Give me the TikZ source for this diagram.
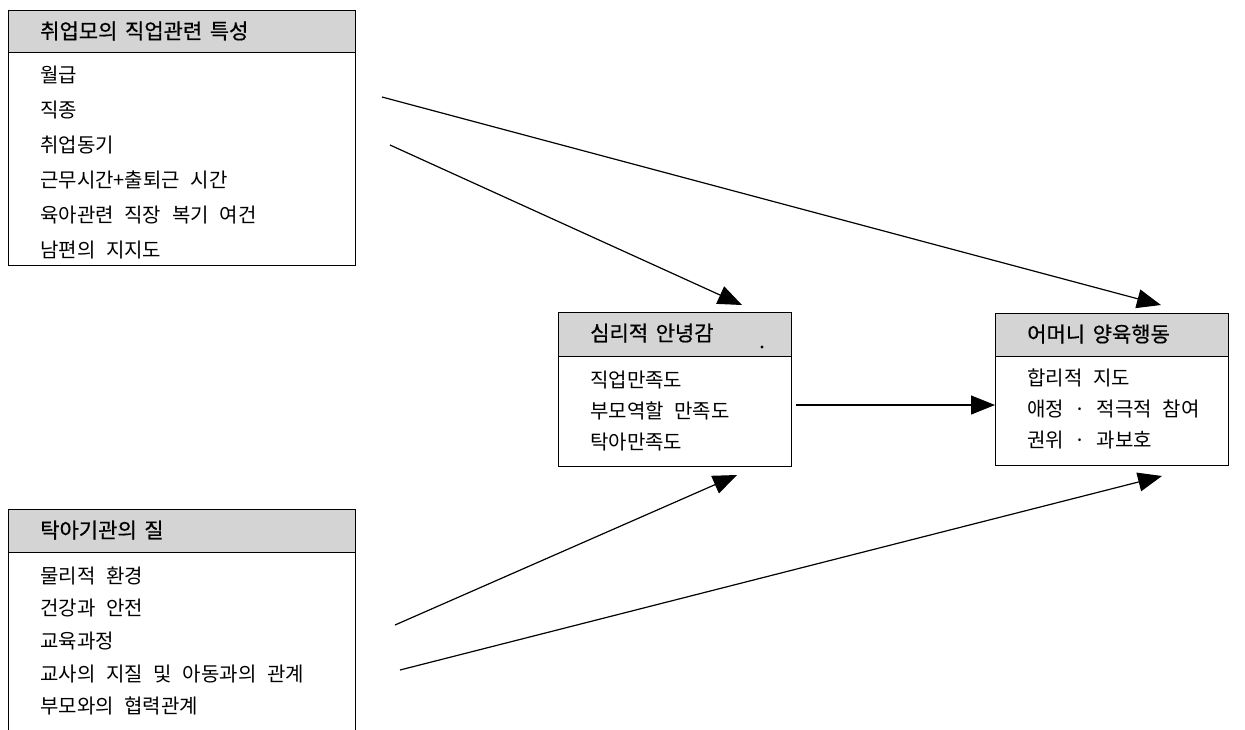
\documentclass[tikz,border=0pt]{standalone}
\usepackage{fontspec}
\setmainfont{Noto Sans CJK KR}
\newfontfamily\itemfont[WordSpace=2.4]{Noto Sans CJK KR}
\newfontfamily\headfont[FakeBold=0.6,WordSpace=1.6]{Noto Sans CJK KR}
\usetikzlibrary{arrows.meta}
\tikzset{
  frame/.style={draw=black, line width=0.9pt},
  headfill/.style={fill=black!17},
  headtxt/.style={anchor=west, inner sep=0pt, font=\headfont\fontsize{21}{21}\selectfont},
  itemtxt/.style={anchor=west, inner sep=0pt, font=\itemfont\fontsize{20}{20}\selectfont},
  link/.style={line width=1.2pt, -{Triangle[length=24pt,width=19pt]}},
}
\begin{document}
\begin{tikzpicture}[x=1pt,y=-1pt]
\useasboundingbox (0,0) rectangle (1245,729);

% ---- box: employment characteristics
\fill[headfill] (8,10) rectangle (355,52);
\draw[frame] (8,10) rectangle (355,265);
\draw[frame] (8,52) -- (355,52);
\node[headtxt] (h1) at (40,31) {취업모의 직업관련 특성};
\node[itemtxt] (a1) at (40,75) {월급};
\node[itemtxt] (a2) at (40,110) {직종};
\node[itemtxt] (a3) at (40,145) {취업동기};
\node[itemtxt] (a4) at (40,180) {근무시간+출퇴근 시간};
\node[itemtxt] (a5) at (40,215) {육아관련 직장 복기 여건};
\node[itemtxt] (a6) at (40,250) {남편의 지지도};

% ---- box: childcare quality
\fill[headfill] (8,509) rectangle (355,552);
\draw[frame] (8,740) -- (8,509) -- (355,509) -- (355,740);
\draw[frame] (8,552) -- (355,552);
\node[headtxt] (h2) at (40,530) {탁아기관의 질};
\node[itemtxt] (b1) at (40,576) {물리적 환경};
\node[itemtxt] (b2) at (40,608) {건강과 안전};
\node[itemtxt] (b3) at (40,641) {교육과정};
\node[itemtxt] (b4) at (40,674) {교사의 지질 및 아동과의 관계};
\node[itemtxt] (b5) at (40,706) {부모와의 협력관계};

% ---- box: psychological well-being
\fill[headfill] (558,312) rectangle (791,356);
\draw[frame] (558,312) rectangle (791,466);
\draw[frame] (558,356) -- (791,356);
\node[headtxt] (h3) at (590,333) {심리적 안녕감};
\node[itemtxt] (c1) at (590,380) {직업만족도};
\node[itemtxt] (c2) at (590,411) {부모역할 만족도};
\node[itemtxt] (c3) at (590,442) {탁아만족도};
\fill (762,347) circle (1.6pt);

% ---- box: maternal parenting behaviour
\fill[headfill] (995,313) rectangle (1228,356);
\draw[frame] (995,313) rectangle (1228,465);
\draw[frame] (995,356) -- (1228,356);
\node[headtxt] (h4) at (1027,334) {어머니 양육행동};
\node[itemtxt] (d1) at (1027,378) {합리적 지도};
\node[itemtxt] (d2) at (1027,409) {애정 · 적극적 참여};
\node[itemtxt] (d3) at (1027,440) {권위 · 과보호};

% ---- connector end points
\coordinate (s1) at (382,97);
\coordinate (t1) at (1161,305);
\coordinate (s2) at (390,145);
\coordinate (t2) at (742,305);
\coordinate (s3) at (796,405);
\coordinate (t3) at (995,405);
\coordinate (s4) at (395,625);
\coordinate (t4) at (737,475);
\coordinate (s5) at (400,670);
\coordinate (t5) at (1162,476);

\draw[link] (s1) -- (t1);
\draw[link] (s2) -- (t2);
\draw[link] (s3) -- (t3);
\draw[link] (s4) -- (t4);
\draw[link] (s5) -- (t5);
\end{tikzpicture}
\end{document}
